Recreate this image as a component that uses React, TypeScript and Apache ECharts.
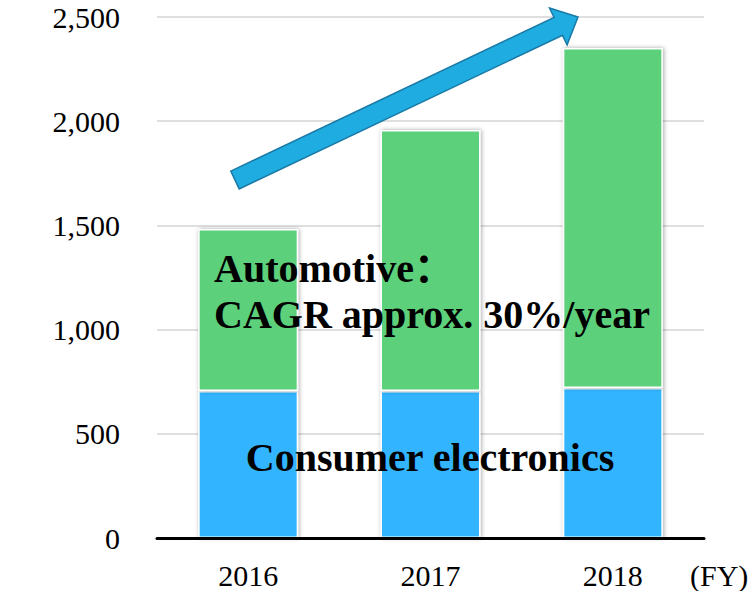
import React, { useEffect, useRef } from "react";
import * as echarts from "echarts";

const categories = ["2016", "2017", "2018"];
const consumerElectronics = [705, 705, 720];
const automotive = [778, 1253, 1631];
const yTicks = { min: 0, max: 2500, interval: 500 };

const SERIF = "'Liberation Serif', 'Times New Roman', serif";

export default function App() {
  const ref = useRef<HTMLDivElement>(null);

  useEffect(() => {
    if (!ref.current) return;
    const chart = echarts.init(ref.current, undefined, { renderer: "svg" });

    const barItem = (color: string) => ({
      color,
      borderColor: "#ffffff",
      borderWidth: 1.5,
      shadowBlur: 4,
      shadowColor: "rgba(0,0,0,0.35)",
      shadowOffsetX: 1,
      shadowOffsetY: 0,
    });

    chart.setOption({
      animation: false,
      backgroundColor: "#ffffff",
      grid: { left: 157, right: 49, top: 17, bottom: 53, containLabel: false },
      xAxis: {
        type: "category",
        data: categories,
        z: 5,
        axisLine: { show: true, lineStyle: { color: "#000000", width: 3 } },
        axisTick: { show: false },
        axisLabel: { color: "#000000", fontFamily: SERIF, fontSize: 30, margin: 22 },
      },
      yAxis: {
        type: "value",
        min: yTicks.min,
        max: yTicks.max,
        interval: yTicks.interval,
        axisLine: { show: false },
        axisTick: { show: false },
        splitLine: { lineStyle: { color: "#d4d4d4", width: 1.5 } },
        axisLabel: {
          color: "#000000",
          fontFamily: SERIF,
          fontSize: 30,
          margin: 37,
          formatter: (v: number) => v.toLocaleString("en-US"),
        },
      },
      series: [
        {
          name: "Consumer electronics",
          type: "bar",
          stack: "total",
          barWidth: 100,
          data: consumerElectronics,
          itemStyle: barItem("#33B4FF"),
        },
        {
          name: "Automotive",
          type: "bar",
          stack: "total",
          barWidth: 100,
          data: automotive,
          itemStyle: barItem("#5BD07A"),
        },
      ],
      graphic: [
        {
          type: "polygon",
          z: 10,
          shape: {
            points: [
              [230.8, 171.1],
              [554.1, 17.5],
              [549.5, 8.0],
              [578, 17],
              [567.1, 44.8],
              [562.5, 35.3],
              [239.2, 188.9],
            ],
          },
          style: { fill: "#1FADE1", stroke: "#1A7AA6", lineWidth: 1.5 },
        },
        {
          type: "text",
          z: 10,
          x: 214,
          y: 268,
          style: {
            text: "Automotive：",
            font: `bold 40px 'Liberation Serif', 'Times New Roman', 'Noto Sans CJK SC', serif`,
            fill: "#000000",
            verticalAlign: "middle",
          },
        },
        {
          type: "text",
          z: 10,
          x: 214,
          y: 314,
          style: {
            text: "CAGR approx. 30%/year",
            font: `bold 40px 'Liberation Serif', 'Times New Roman', serif`,
            fill: "#000000",
            verticalAlign: "middle",
          },
        },
        {
          type: "text",
          z: 10,
          x: 430,
          y: 457,
          style: {
            text: "Consumer electronics",
            font: `bold 40px 'Liberation Serif', 'Times New Roman', serif`,
            fill: "#000000",
            align: "center",
            verticalAlign: "middle",
          },
        },
        {
          type: "text",
          z: 10,
          x: 690,
          y: 575,
          style: {
            text: "(FY)",
            font: `30px 'Liberation Serif', 'Times New Roman', serif`,
            fill: "#000000",
            verticalAlign: "middle",
          },
        },
      ],
    });

    return () => chart.dispose();
  }, []);

  return (
    <div
      ref={ref}
      style={{ position: "absolute", left: 0, top: 0, width: 753, height: 591 }}
    />
  );
}
